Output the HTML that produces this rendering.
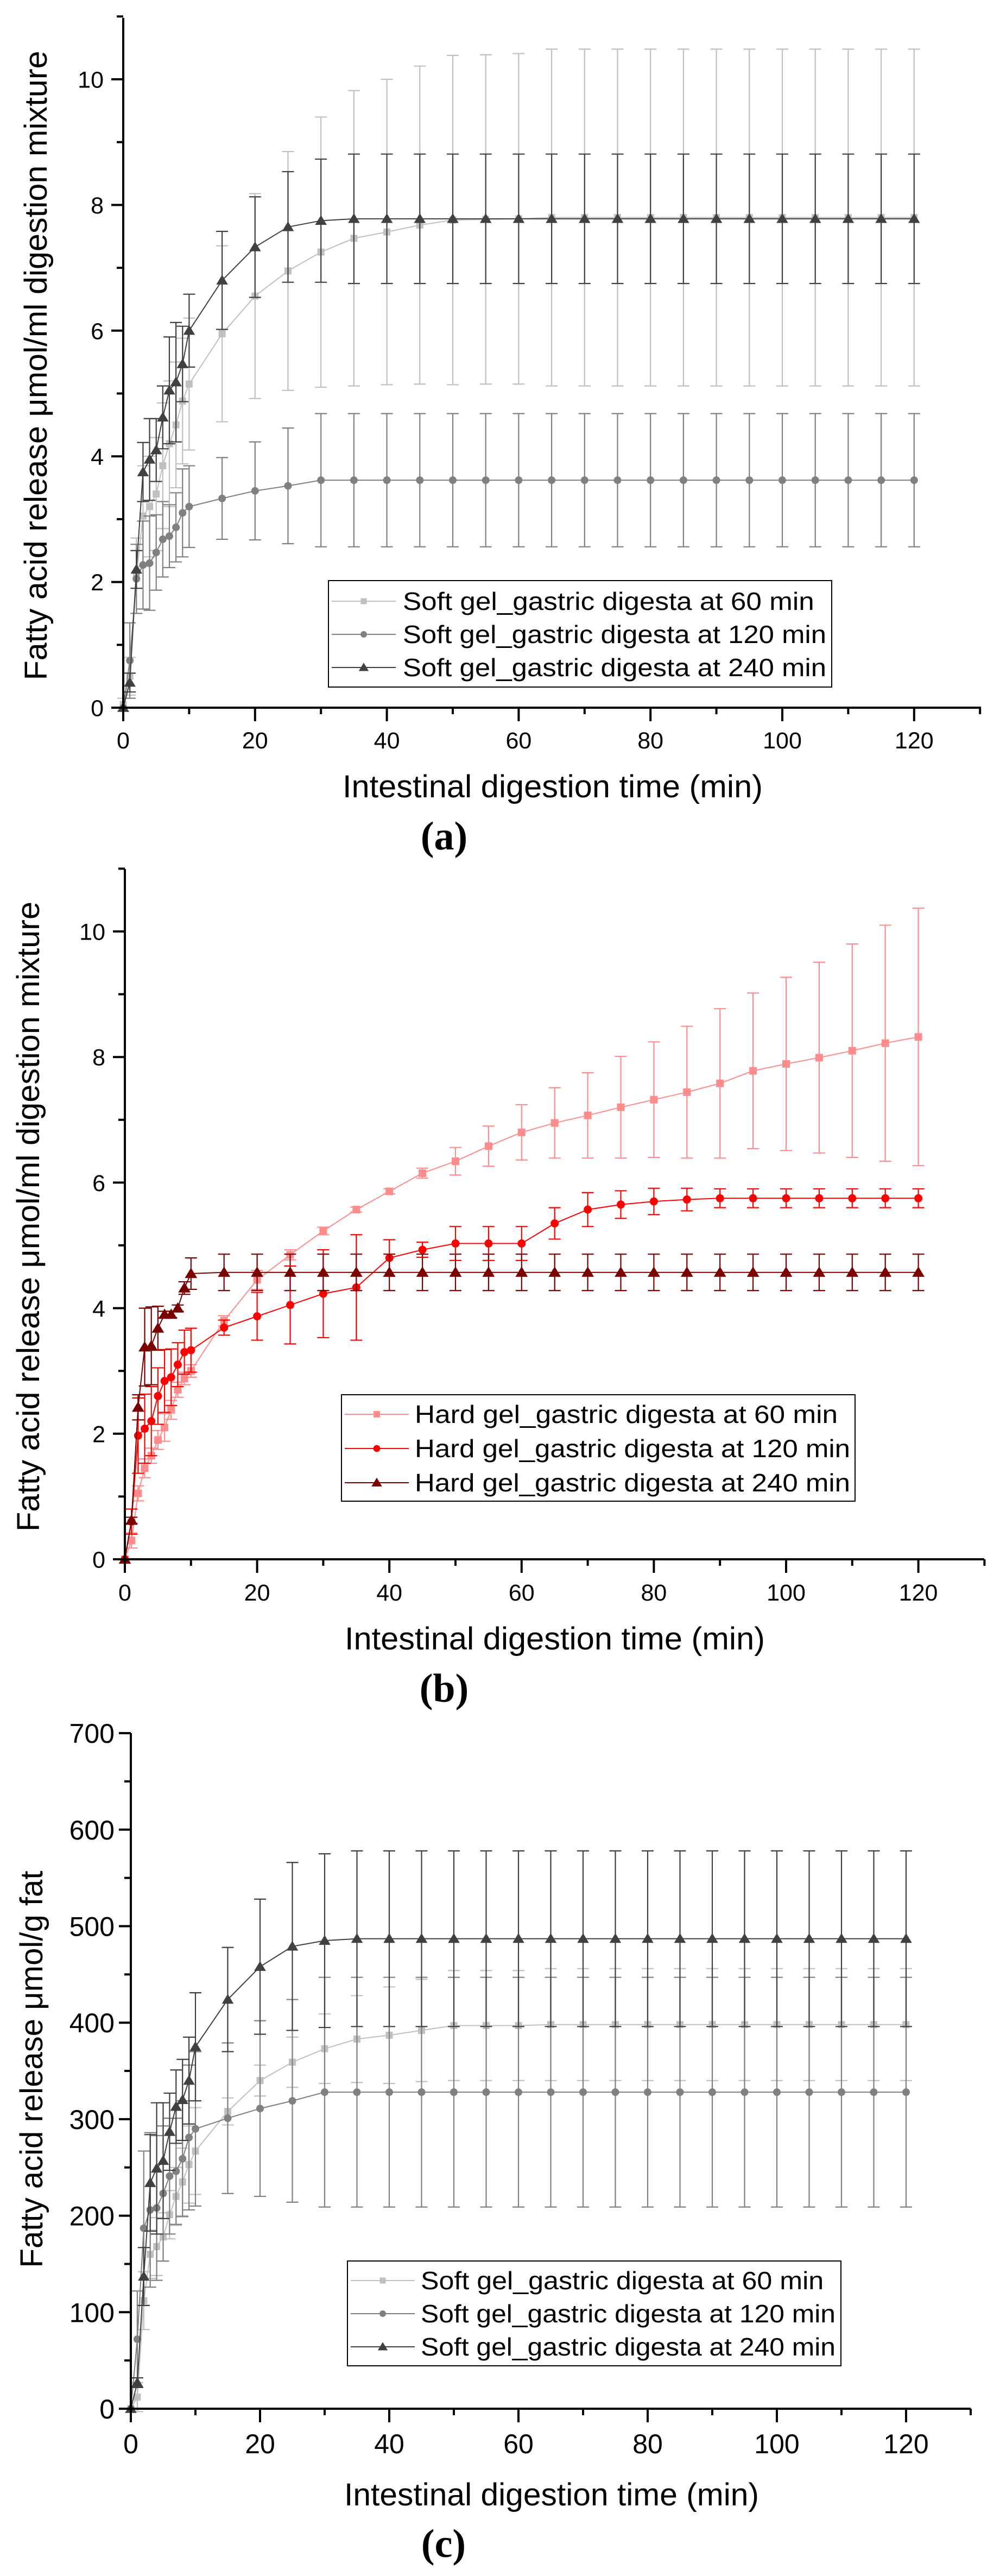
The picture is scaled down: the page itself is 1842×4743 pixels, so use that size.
<!DOCTYPE html>
<html><head><meta charset="utf-8"><title>Fatty acid release charts</title>
<style>
html,body{margin:0;padding:0;background:#fff;}
svg{display:block;}
text{font-family:"Liberation Sans",Arial,sans-serif;fill:#000;}
.cap{font-family:"Liberation Serif",serif;font-weight:bold;}
</style></head>
<body>
<svg id="fig" width="1842" height="4743" viewBox="0 0 1842 4743" xmlns="http://www.w3.org/2000/svg"></svg>
<script>
// ---------- data ----------
const times = [0,1,2,3,4,5,6,7,8,9,10,15,20,25,30,35,40,45,50,55,60,65,70,75,80,85,90,95,100,105,110,115,120];

// Panel a (µmol/ml)
const a60  = [0.05,0.5,2.1,3.05,3.2,3.4,3.85,4.2,4.5,4.88,5.15,5.95,6.55,6.95,7.25,7.47,7.57,7.68,7.76,7.77,7.78,7.8,7.8,7.8,7.8,7.8,7.8,7.8,7.8,7.8,7.8,7.8,7.8];
const a60e = [0.1,0.3,0.6,0.8,0.8,0.9,1.0,1.0,1.0,1.0,1.05,1.4,1.63,1.9,2.15,2.35,2.43,2.53,2.62,2.62,2.63,2.68,2.68,2.68,2.68,2.68,2.68,2.68,2.68,2.68,2.68,2.68,2.68];
const a120  = [0,0.75,2.05,2.27,2.3,2.47,2.68,2.73,2.87,3.1,3.2,3.33,3.45,3.53,3.62,3.62,3.62,3.62,3.62,3.62,3.62,3.62,3.62,3.62,3.62,3.62,3.62,3.62,3.62,3.62,3.62,3.62,3.62];
const a120e = [0,0.6,0.55,0.7,0.75,0.6,0.6,0.5,0.55,0.7,0.65,0.65,0.78,0.92,1.06,1.06,1.06,1.06,1.06,1.06,1.06,1.06,1.06,1.06,1.06,1.06,1.06,1.06,1.06,1.06,1.06,1.06,1.06];
const a240  = [0,0.4,2.2,3.75,3.95,4.1,4.62,5.05,5.18,5.47,6.0,6.8,7.33,7.65,7.75,7.78,7.78,7.78,7.78,7.78,7.78,7.78,7.78,7.78,7.78,7.78,7.78,7.78,7.78,7.78,7.78,7.78,7.78];
const a240e = [0,0.15,0.3,0.47,0.65,0.5,0.5,0.85,0.95,0.6,0.58,0.78,0.8,0.88,0.98,1.03,1.03,1.03,1.03,1.03,1.03,1.03,1.03,1.03,1.03,1.03,1.03,1.03,1.03,1.03,1.03,1.03,1.03];

// Panel b (µmol/ml)
const b60  = [0,0.3,1.05,1.45,1.65,1.9,2.1,2.38,2.7,2.88,3.0,3.8,4.45,4.85,5.23,5.57,5.86,6.15,6.34,6.58,6.8,6.95,7.07,7.2,7.32,7.44,7.58,7.78,7.89,7.99,8.1,8.22,8.32];
const b60e = [0,0.12,0.12,0.15,0.12,0.15,0.22,0.15,0.12,0.1,0.1,0.08,0.15,0.08,0.06,0.04,0.04,0.08,0.22,0.32,0.44,0.56,0.68,0.81,0.92,1.05,1.19,1.24,1.38,1.52,1.7,1.88,2.05];
const b120  = [0,0.6,1.97,2.08,2.2,2.6,2.84,2.9,3.1,3.3,3.33,3.69,3.87,4.05,4.23,4.33,4.8,4.93,5.03,5.03,5.03,5.35,5.57,5.65,5.7,5.73,5.75,5.75,5.75,5.75,5.75,5.75,5.75];
const b120e = [0,0.2,0.6,0.55,0.55,0.45,0.5,0.45,0.35,0.35,0.35,0.12,0.38,0.62,0.7,0.84,0.29,0.12,0.27,0.27,0.27,0.25,0.27,0.22,0.21,0.18,0.15,0.15,0.15,0.15,0.15,0.15,0.15];
const b240  = [0,0.62,2.42,3.38,3.4,3.68,3.9,3.9,4.0,4.32,4.55,4.57,4.57,4.57,4.57,4.57,4.57,4.57,4.57,4.57,4.57,4.57,4.57,4.57,4.57,4.57,4.57,4.57,4.57,4.57,4.57,4.57,4.57];
const b240e = [0,0.05,0.2,0.62,0.62,0.35,0.05,0.05,0.05,0.1,0.25,0.29,0.29,0.29,0.29,0.29,0.29,0.29,0.29,0.29,0.29,0.29,0.29,0.29,0.29,0.29,0.29,0.29,0.29,0.29,0.29,0.29,0.29];

// Panel c (µmol/g fat)
const c60  = [0,12,112,160,168,178,201,220,235,253,267,308,340,359,373,383,387,392,397,397,397,398,398,398,398,398,398,398,398,398,398,398,398];
const c60e = [0,15,30,25,30,25,25,30,35,40,45,14,16,26,36,45,50,53,57,57,57,58,58,58,58,58,58,58,58,58,58,58,58];
const c120  = [0,72,187,206,208,223,241,246,259,281,290,301,311,319,328,328,328,328,328,328,328,328,328,328,328,328,328,328,328,328,328,328,328];
const c120e = [0,50,80,80,75,70,60,55,60,75,80,78,91,105,119,119,119,119,119,119,119,119,119,119,119,119,119,119,119,119,119,119,119];
const c240  = [0,27,137,234,249,257,287,313,320,340,375,424,458,479,485,487,487,487,487,487,487,487,487,487,487,487,487,487,487,487,487,487,487];
const c240e = [0,5,30,50,68,60,40,38,42,45,56,54,70,87,90,91,91,91,91,91,91,91,91,91,91,91,91,91,91,91,91,91,91];

const xTicks = [0,20,40,60,80,100,120];
const yTicksAB = [0,2,4,6,8,10];
const yTicksC = [0,100,200,300,400,500,600,700];

// ---------- helpers ----------
const NS = "http://www.w3.org/2000/svg";
const svg = document.getElementById('fig');
function mk(tag, attrs, parent){
  const e = document.createElementNS(NS, tag);
  for (const k in attrs) e.setAttribute(k, attrs[k]);
  (parent||svg).appendChild(e);
  return e;
}

function marker(g, shape, cx, cy, color, s){
  let m;
  if (shape === 'square') {
    m = mk('rect', {x:cx-s/2, y:cy-s/2, width:s, height:s, fill:color}, g);
  } else if (shape === 'circle') {
    m = mk('circle', {cx:cx, cy:cy, r:s/2, fill:color}, g);
  } else {
    const h = s*0.95;
    m = mk('polygon', {points:`${cx},${cy-h*0.6} ${cx-s*0.6},${cy+h*0.45} ${cx+s*0.6},${cy+h*0.45}`, fill:color}, g);
  }
  return m;
}

function drawPanel(P){
  const g = mk('g', {});
  
  
  const X = v => P.x0 + v*P.xs;
  const Y = v => P.y0 - v*P.ys;

  P.series.forEach(S => {
    const sg = mk('g', {}, g);
    
    
    times.forEach((t, i) => {
      const e = S.err[i]; if (!e) return;
      const x = X(t), y1 = Y(S.vals[i]+e), y2 = Y(S.vals[i]-e);
      const eb = mk('path', {d:`M${x},${y1}V${y2}M${x-11},${y1}H${x+11}M${x-11},${y2}H${x+11}`, stroke:S.color, 'stroke-width':2.2, fill:'none'}, sg);
      
      
    });
    const pts = times.map((t,i)=>`${X(t)},${Y(S.vals[i])}`).join(' ');
    const ln = mk('polyline', {points:pts, fill:'none', stroke:S.color, 'stroke-width':2}, sg);
    
    
    times.forEach((t,i) => {
      const m = marker(sg, S.shape, X(t), Y(S.vals[i]), S.color, S.size);
      
      
    });
  });

  const ax = mk('path', {d:`M${P.x0},${P.yTopPx}V${P.y0}H${P.xEnd}`, stroke:'#000', 'stroke-width':4, fill:'none'}, g);
  
  
  for (let v=0; v<=130; v+=10){
    const major = v % 20 === 0;
    const t = mk('line', {x1:X(v), x2:X(v), y1:P.y0, y2:P.y0+(major?25:12), stroke:'#000','stroke-width':4}, g);
    
    
  }
  xTicks.forEach(v => {
    const t = mk('text', {x:X(v), y:P.y0+P.xlOff, 'text-anchor':'middle', 'font-size':P.tickFont}, g);
    t.textContent = v;
    
    
  });
  const yMax = P.yTicks[P.yTicks.length-1] + (P.extraTop||0);
  for (let v=0; v<=yMax+1e-9; v+=P.minor){
    const major = Math.abs(v/P.major - Math.round(v/P.major)) < 1e-6;
    const t = mk('line', {x1:P.x0-(major?22:12), x2:P.x0, y1:Y(v), y2:Y(v), stroke:'#000','stroke-width':4}, g);
    
    
  }
  P.yTicks.forEach(v => {
    const t = mk('text', {x:P.x0-P.ylOff, y:Y(v)+P.tickFont*0.36, 'text-anchor':'end', 'font-size':P.tickFont}, g);
    t.textContent = v;
    
    
  });
  const xt = mk('text', {x:P.xtX, y:P.xtY, 'text-anchor':'middle', 'font-size':58, textLength:P.xtLen, lengthAdjust:'spacingAndGlyphs'}, g);
  xt.textContent = 'Intestinal digestion time (min)';
  
  
  const yt = mk('text', {x:0, y:0, 'text-anchor':'middle', 'font-size':58, textLength:P.ytLen, lengthAdjust:'spacingAndGlyphs', transform:`translate(${P.ytX},${P.ytY}) rotate(-90)`}, g);
  yt.textContent = P.ytitle;
  
  
  const cap = mk('text', {x:P.capX, y:P.capY, 'text-anchor':'middle', 'font-size':74, class:'cap'}, g);
  cap.textContent = P.caption;
  
  

  const L = P.legend;
  const lg = mk('g', {}, g);
  
  
  mk('rect', {x:L.x, y:L.y, width:L.w, height:L.h, fill:'#fff', stroke:'#000', 'stroke-width':2}, lg);
  P.series.forEach((S, i) => {
    const cy = L.rows[i];
    const e = mk('g', {}, lg);
    
    
    mk('line', {x1:L.x+6, x2:L.x+124, y1:cy, y2:cy, stroke:S.color, 'stroke-width':2}, e);
    marker(e, S.shape, L.x+65, cy, S.color, S.size*0.85);
    const t = mk('text', {x:L.tx, y:cy+16, 'font-size':46, textLength:L.tw*(S.label.length/35), lengthAdjust:'spacingAndGlyphs'}, e);
    t.textContent = S.label;
  });
}

drawPanel({
  name:'chart-a', x0:227, xs:12.14, y0:1303, ys:115.7, yTopPx:33, xEnd:1807,
  yTicks:yTicksAB, major:2, minor:1, extraTop:1, tickFont:43, xlOff:75, ylOff:36,
  xtX:1018, xtY:1468, xtLen:774, ytX:86, ytY:673, ytLen:1159,
  ytitle:'Fatty acid release μmol/ml digestion mixture', caption:'(a)', capX:818, capY:1564,
  legend:{x:605, y:1069, w:927, h:196, rows:[1107,1168,1229], tx:742, tw:780},
  series:[
    {id:'series-soft-60', label:'Soft gel_gastric digesta at 60 min', vals:a60, err:a60e, color:'#c0c0c0', shape:'square', size:13},
    {id:'series-soft-120', label:'Soft gel_gastric digesta at 120 min', vals:a120, err:a120e, color:'#808080', shape:'circle', size:14},
    {id:'series-soft-240', label:'Soft gel_gastric digesta at 240 min', vals:a240, err:a240e, color:'#404040', shape:'triangle', size:18}
  ]
});

drawPanel({
  name:'chart-b', x0:230, xs:12.18, y0:2871, ys:115.6, yTopPx:1600, xEnd:1813,
  yTicks:yTicksAB, major:2, minor:1, extraTop:1, tickFont:43, xlOff:76, ylOff:36,
  xtX:1022, xtY:3037, xtLen:774, ytX:72, ytY:2240, ytLen:1160,
  ytitle:'Fatty acid release μmol/ml digestion mixture', caption:'(b)', capX:818, capY:3133,
  legend:{x:629, y:2568, w:946, h:196, rows:[2604,2667,2730], tx:764, tw:802},
  series:[
    {id:'series-hard-60', label:'Hard gel_gastric digesta at 60 min', vals:b60, err:b60e, color:'#ff8c8c', shape:'square', size:14},
    {id:'series-hard-120', label:'Hard gel_gastric digesta at 120 min', vals:b120, err:b120e, color:'#ff0000', shape:'circle', size:15},
    {id:'series-hard-240', label:'Hard gel_gastric digesta at 240 min', vals:b240, err:b240e, color:'#7a0000', shape:'triangle', size:19}
  ]
});

drawPanel({
  name:'chart-c', x0:241, xs:11.9, y0:4435, ys:1.777, yTopPx:3191, xEnd:1788,
  yTicks:yTicksC, major:100, minor:50, extraTop:0, tickFont:50, xlOff:82, ylOff:30,
  xtX:1016, xtY:4613, xtLen:764, ytX:78, ytY:3810, ytLen:731,
  ytitle:'Fatty acid release μmol/g fat', caption:'(c)', capX:817, capY:4708,
  legend:{x:640, y:4163, w:909, h:193, rows:[4199,4260,4321], tx:775, tw:764},
  series:[
    {id:'series-soft-60-c', label:'Soft gel_gastric digesta at 60 min', vals:c60, err:c60e, color:'#c0c0c0', shape:'square', size:13},
    {id:'series-soft-120-c', label:'Soft gel_gastric digesta at 120 min', vals:c120, err:c120e, color:'#808080', shape:'circle', size:14},
    {id:'series-soft-240-c', label:'Soft gel_gastric digesta at 240 min', vals:c240, err:c240e, color:'#404040', shape:'triangle', size:18}
  ]
});
</script>
</body></html>
